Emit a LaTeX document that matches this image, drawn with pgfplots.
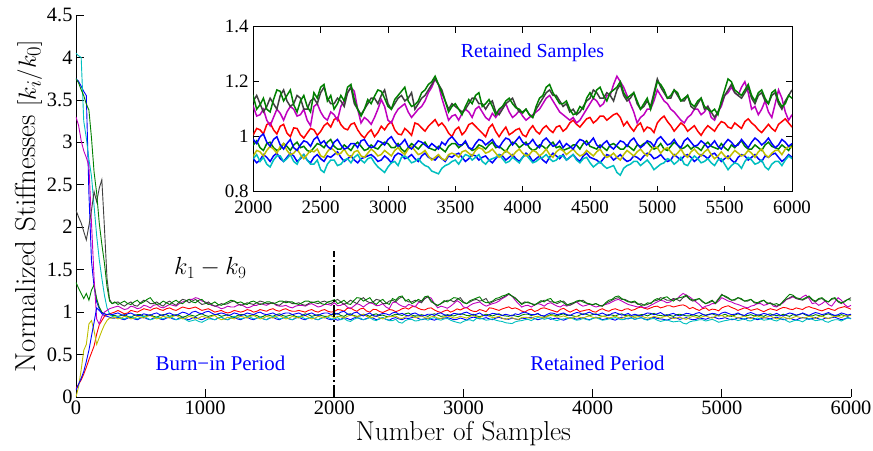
\documentclass[border=0pt]{standalone}
\usepackage{fontspec}
\usepackage{pgfplots}
\usepackage{pgfplotstable}
\pgfplotsset{compat=1.18}
\newfontfamily\tnr{Liberation Serif}
\definecolor{mgreen}{rgb}{0,0.5,0}
\definecolor{mcyan}{rgb}{0,0.75,0.75}
\definecolor{mmag}{rgb}{0.75,0,0.75}
\definecolor{myel}{rgb}{0.75,0.75,0}
\definecolor{mgray}{rgb}{0.25,0.25,0.25}

% chain of samples, k1..k9 (normalized stiffness)
\pgfplotstableread{
x k1 k2 k3 k4 k5 k6 k7 k8 k9
0 3.75 1.35 0.10 4.05 3.30 0.00 2.20 0.08 3.75
20 3.72 1.28 0.15 4.02 3.20 0.12 2.12 0.15 3.70
40 3.66 1.22 0.20 4.00 3.02 0.32 2.05 0.22 3.62
60 3.60 1.16 0.27 3.25 2.90 0.55 1.95 0.30 3.55
80 3.55 1.22 0.35 3.05 2.82 0.62 1.85 0.42 3.45
100 2.40 1.14 0.44 2.80 2.72 0.86 2.02 0.55 3.38
120 1.60 1.26 0.52 2.60 2.05 0.90 2.20 0.72 3.05
140 1.30 1.32 0.60 2.25 1.40 0.78 2.42 0.88 2.65
160 1.12 1.16 0.74 1.90 0.92 0.62 2.30 1.05 2.40
180 1.04 1.06 0.85 1.62 0.86 0.70 2.46 1.02 2.05
200 0.98 1.00 0.90 1.40 0.95 0.78 2.56 0.99 1.80
220 0.96 0.98 0.95 1.20 1.00 0.85 2.00 0.98 1.58
240 0.95 0.97 0.97 1.05 1.02 0.90 1.40 0.97 1.30
260 0.94 0.97 0.98 0.98 1.04 0.93 1.15 0.98 1.13
280 0.93 0.96 0.99 0.95 1.05 0.93 1.10 0.97 1.10
300 0.93 0.96 1.00 0.94 1.06 0.94 1.11 0.98 1.12
325 0.94 0.95 1.02 0.95 1.07 0.92 1.12 0.99 1.09
350 0.92 0.96 1.00 0.93 1.05 0.93 1.09 0.97 1.11
375 0.91 0.97 0.98 0.92 1.03 0.95 1.07 0.96 1.13
400 0.93 0.95 0.99 0.94 1.04 0.94 1.10 0.98 1.10
425 0.94 0.94 1.02 0.95 1.07 0.92 1.12 0.99 1.09
450 0.92 0.96 1.01 0.93 1.06 0.93 1.08 0.97 1.12
475 0.91 0.97 1.00 0.92 1.04 0.95 1.07 0.96 1.14
500 0.93 0.97 1.02 0.94 1.05 0.94 1.11 0.96 1.10
525 0.94 0.95 1.04 0.95 1.08 0.93 1.14 0.98 1.12
550 0.92 0.96 1.03 0.93 1.07 0.95 1.13 0.97 1.15
575 0.91 0.97 1.02 0.91 1.05 0.96 1.10 0.96 1.17
600 0.93 0.95 1.04 0.92 1.08 0.94 1.10 0.98 1.12
625 0.94 0.94 1.05 0.94 1.09 0.92 1.12 0.99 1.09
650 0.92 0.96 1.03 0.93 1.06 0.93 1.09 0.97 1.10
675 0.91 0.97 1.02 0.92 1.05 0.95 1.07 0.96 1.13
700 0.93 0.97 1.04 0.94 1.07 0.94 1.11 0.98 1.11
725 0.94 0.95 1.05 0.95 1.09 0.93 1.13 0.99 1.09
750 0.92 0.96 1.03 0.93 1.08 0.95 1.10 0.97 1.12
775 0.91 0.97 1.02 0.91 1.07 0.96 1.08 0.96 1.14
800 0.93 0.96 1.04 0.92 1.10 0.94 1.12 0.98 1.11
825 0.94 0.94 1.06 0.93 1.12 0.92 1.15 1.00 1.10
850 0.92 0.95 1.05 0.91 1.13 0.93 1.14 0.99 1.13
875 0.91 0.97 1.04 0.89 1.15 0.95 1.11 0.97 1.15
900 0.93 0.96 1.05 0.90 1.15 0.94 1.13 1.00 1.12
925 0.94 0.95 1.06 0.91 1.17 0.92 1.15 1.01 1.11
950 0.92 0.97 1.04 0.89 1.16 0.93 1.12 0.99 1.14
975 0.91 0.98 1.02 0.88 1.13 0.95 1.09 0.98 1.15
1000 0.93 0.96 1.03 0.90 1.12 0.94 1.10 1.00 1.11
1025 0.94 0.95 1.04 0.92 1.10 0.93 1.12 1.01 1.09
1050 0.92 0.96 1.02 0.92 1.08 0.95 1.09 0.99 1.10
1075 0.91 0.97 1.00 0.91 1.07 0.96 1.07 0.97 1.12
1100 0.93 0.97 1.01 0.93 1.06 0.93 1.08 0.98 1.09
1125 0.94 0.95 1.02 0.94 1.04 0.91 1.10 0.99 1.08
1150 0.92 0.96 1.00 0.92 1.05 0.92 1.09 0.98 1.10
1175 0.91 0.97 0.99 0.91 1.07 0.94 1.10 0.96 1.12
1200 0.93 0.95 1.00 0.93 1.06 0.93 1.12 0.97 1.14
1225 0.94 0.94 1.02 0.95 1.06 0.92 1.13 0.99 1.13
1250 0.92 0.96 1.01 0.94 1.08 0.94 1.10 0.98 1.11
1275 0.91 0.97 1.00 0.92 1.09 0.95 1.08 0.96 1.12
1300 0.93 0.97 1.01 0.93 1.07 0.94 1.09 0.97 1.10
1325 0.94 0.95 1.03 0.95 1.05 0.93 1.11 0.99 1.09
1350 0.92 0.96 1.02 0.94 1.06 0.95 1.10 0.98 1.12
1375 0.91 0.97 1.00 0.92 1.08 0.96 1.09 0.97 1.13
1400 0.93 0.96 1.01 0.93 1.08 0.94 1.11 0.99 1.11
1425 0.94 0.94 1.03 0.94 1.10 0.92 1.13 1.00 1.09
1450 0.92 0.95 1.02 0.92 1.09 0.93 1.12 0.98 1.10
1475 0.91 0.97 1.01 0.91 1.08 0.95 1.10 0.97 1.12
1500 0.93 0.96 1.03 0.93 1.10 0.94 1.10 0.98 1.12
1525 0.94 0.95 1.04 0.95 1.11 0.93 1.11 0.99 1.10
1550 0.92 0.97 1.02 0.94 1.08 0.95 1.09 0.97 1.11
1575 0.91 0.98 1.01 0.92 1.07 0.96 1.08 0.96 1.13
1600 0.93 0.96 1.03 0.93 1.07 0.94 1.11 0.98 1.13
1625 0.94 0.95 1.04 0.94 1.08 0.92 1.13 0.99 1.11
1650 0.92 0.96 1.02 0.92 1.06 0.93 1.12 0.99 1.12
1675 0.91 0.97 1.01 0.91 1.05 0.95 1.10 0.97 1.12
1700 0.93 0.95 1.01 0.93 1.07 0.94 1.10 0.98 1.10
1725 0.94 0.94 1.02 0.95 1.08 0.93 1.11 0.99 1.09
1750 0.92 0.96 1.01 0.94 1.08 0.95 1.09 0.97 1.11
1775 0.91 0.98 1.00 0.92 1.07 0.96 1.08 0.96 1.13
1800 0.93 0.97 1.02 0.93 1.09 0.94 1.10 0.98 1.13
1825 0.94 0.95 1.03 0.94 1.10 0.92 1.12 0.99 1.11
1850 0.92 0.96 1.01 0.92 1.08 0.93 1.11 0.97 1.12
1875 0.91 0.97 1.00 0.91 1.06 0.95 1.10 0.96 1.13
1900 0.93 0.96 1.02 0.93 1.07 0.94 1.12 0.98 1.10
1925 0.94 0.95 1.03 0.94 1.09 0.93 1.13 0.99 1.09
1950 0.92 0.95 1.01 0.94 1.09 0.95 1.11 0.99 1.12
1975 0.91 0.97 1.00 0.92 1.08 0.96 1.10 0.97 1.13
2000 0.92 0.97 1.007 0.92 1.11 0.93 1.13 0.99 1.147
2025 0.905 0.985 1.03 0.935 1.075 0.95 1.15 0.975 1.10
2050 0.915 0.96 1.025 0.91 1.08 0.945 1.12 1.00 1.116
2075 0.935 0.95 1.01 0.925 1.10 0.93 1.09 1.01 1.14
2100 0.925 0.975 1.044 0.90 1.06 0.95 1.11 0.98 1.10
2125 0.91 0.98 1.05 0.89 1.04 0.965 1.14 0.965 1.09
2150 0.93 0.96 1.025 0.915 1.07 0.955 1.12 0.99 1.135
2175 0.94 0.95 1.01 0.93 1.10 0.94 1.10 1.00 1.17
2200 0.92 0.955 1.038 0.93 1.085 0.965 1.15 0.97 1.165
2225 0.91 0.975 1.045 0.91 1.06 0.975 1.17 0.955 1.13
2250 0.925 0.965 1.013 0.92 1.09 0.95 1.13 0.975 1.15
2275 0.94 0.95 1.00 0.935 1.11 0.935 1.11 0.99 1.17
2300 0.93 0.97 1.032 0.91 1.10 0.94 1.12 0.96 1.116
2325 0.91 0.98 1.03 0.90 1.075 0.955 1.15 0.95 1.09
2350 0.92 0.96 1.007 0.925 1.08 0.935 1.14 0.97 1.13
2375 0.935 0.965 0.995 0.935 1.10 0.92 1.10 0.985 1.15
2400 0.915 0.95 1.013 0.915 1.06 0.935 1.10 0.98 1.11
2425 0.905 0.945 1.03 0.90 1.04 0.95 1.13 0.965 1.09
2450 0.925 0.96 1.025 0.90 1.11 0.945 1.14 0.99 1.16
2475 0.935 0.975 1.005 0.915 1.12 0.955 1.12 1.00 1.14
2500 0.92 0.97 1.019 0.88 1.09 0.93 1.16 0.975 1.18
2525 0.91 0.96 1.04 0.87 1.07 0.925 1.18 0.985 1.19
2550 0.93 0.98 1.05 0.90 1.06 0.945 1.14 0.965 1.13
2575 0.925 0.99 1.035 0.915 1.09 0.96 1.12 0.955 1.15
2600 0.935 0.965 1.062 0.915 1.08 0.95 1.12 0.98 1.10
2625 0.945 0.955 1.07 0.895 1.06 0.935 1.14 0.99 1.12
2650 0.925 0.955 1.044 0.90 1.11 0.94 1.13 0.97 1.15
2675 0.91 0.97 1.03 0.915 1.13 0.955 1.11 0.955 1.13
2700 0.92 0.96 1.025 0.92 1.16 0.935 1.16 0.96 1.18
2725 0.93 0.95 1.045 0.905 1.18 0.925 1.18 0.975 1.19
2750 0.915 0.97 1.05 0.925 1.165 0.945 1.12 0.975 1.135
2775 0.905 0.98 1.025 0.935 1.10 0.95 1.10 0.96 1.10
2800 0.92 0.965 1.007 0.915 1.05 0.93 1.08 0.985 1.075
2825 0.925 0.95 0.995 0.905 1.07 0.925 1.10 0.99 1.10
2850 0.93 0.955 1.013 0.92 1.06 0.94 1.12 0.97 1.135
2875 0.935 0.97 1.025 0.925 1.045 0.955 1.14 0.96 1.12
2900 0.925 0.96 1.00 0.905 1.07 0.945 1.14 0.965 1.147
2925 0.91 0.955 1.015 0.89 1.10 0.93 1.12 0.985 1.17
2950 0.915 0.97 1.038 0.88 1.135 0.935 1.15 0.98 1.165
2975 0.93 0.98 1.025 0.87 1.11 0.95 1.17 0.97 1.14
3000 0.92 0.975 1.044 0.89 1.06 0.94 1.12 0.99 1.11
3025 0.905 0.96 1.055 0.905 1.05 0.93 1.10 1.00 1.10
3050 0.93 0.96 1.025 0.91 1.08 0.95 1.12 0.98 1.135
3075 0.94 0.975 1.01 0.895 1.10 0.96 1.14 0.965 1.15
3100 0.935 0.955 1.007 0.925 1.11 0.945 1.15 0.975 1.165
3125 0.92 0.945 1.03 0.93 1.12 0.935 1.13 0.99 1.18
3150 0.925 0.96 1.019 0.92 1.09 0.955 1.14 0.965 1.13
3175 0.935 0.975 1.005 0.905 1.07 0.965 1.16 0.955 1.11
3200 0.92 0.965 1.05 0.91 1.085 0.95 1.10 0.97 1.116
3225 0.91 0.955 1.045 0.92 1.10 0.935 1.12 0.985 1.13
3250 0.93 0.97 1.032 0.905 1.11 0.94 1.14 0.98 1.16
3275 0.94 0.98 1.02 0.895 1.13 0.95 1.15 0.97 1.17
3300 0.925 0.96 1.038 0.89 1.16 0.93 1.17 0.96 1.19
3325 0.92 0.955 1.05 0.875 1.18 0.915 1.19 0.975 1.20
3350 0.915 0.95 1.062 0.87 1.21 0.925 1.21 0.965 1.22
3375 0.93 0.965 1.04 0.865 1.19 0.935 1.19 0.955 1.19
3400 0.92 0.955 1.05 0.885 1.14 0.92 1.17 0.98 1.16
3425 0.91 0.945 1.035 0.895 1.10 0.915 1.13 0.97 1.13
3450 0.93 0.965 1.013 0.90 1.06 0.935 1.10 0.99 1.09
3475 0.925 0.975 1.00 0.91 1.075 0.94 1.12 1.00 1.11
3500 0.935 0.975 1.025 0.915 1.08 0.935 1.11 0.985 1.12
3525 0.94 0.96 1.035 0.90 1.06 0.925 1.10 0.97 1.10
3550 0.925 0.97 1.007 0.92 1.085 0.945 1.09 0.97 1.08
3575 0.91 0.98 1.02 0.935 1.10 0.95 1.10 0.985 1.11
3600 0.92 0.96 1.044 0.93 1.09 0.94 1.12 0.96 1.135
3625 0.935 0.95 1.05 0.915 1.07 0.93 1.14 0.955 1.12
3650 0.93 0.955 1.038 0.925 1.10 0.95 1.14 0.975 1.15
3675 0.915 0.97 1.025 0.935 1.11 0.96 1.12 0.99 1.16
3700 0.925 0.965 1.013 0.91 1.09 0.955 1.12 0.985 1.11
3725 0.93 0.955 1.00 0.90 1.07 0.94 1.10 0.97 1.12
3750 0.915 0.97 1.032 0.915 1.06 0.945 1.12 0.98 1.135
3775 0.905 0.98 1.045 0.92 1.085 0.955 1.13 0.99 1.11
3800 0.92 0.96 1.019 0.925 1.07 0.94 1.09 0.97 1.08
3825 0.935 0.965 1.00 0.935 1.09 0.925 1.08 0.96 1.10
3850 0.93 0.955 1.019 0.92 1.11 0.935 1.10 0.98 1.11
3875 0.915 0.945 1.035 0.905 1.12 0.95 1.12 0.995 1.13
3900 0.925 0.965 1.007 0.91 1.09 0.94 1.13 0.99 1.14
3925 0.935 0.98 1.015 0.925 1.07 0.93 1.14 0.97 1.12
3950 0.92 0.975 1.025 0.915 1.08 0.945 1.11 0.985 1.105
3975 0.91 0.96 1.03 0.905 1.095 0.955 1.09 1.00 1.10
4000 0.925 0.97 1.007 0.925 1.075 0.94 1.09 0.98 1.086
4025 0.94 0.98 1.00 0.935 1.06 0.93 1.10 0.97 1.10
4050 0.93 0.96 1.025 0.92 1.07 0.935 1.08 0.975 1.08
4075 0.91 0.95 1.04 0.905 1.08 0.95 1.07 0.99 1.07
4100 0.92 0.955 1.02 0.91 1.09 0.945 1.10 0.97 1.11
4125 0.93 0.97 1.01 0.92 1.10 0.93 1.12 0.96 1.14
4150 0.915 0.965 1.03 0.925 1.12 0.94 1.14 0.985 1.15
4175 0.905 0.955 1.04 0.935 1.14 0.955 1.16 0.995 1.18
4200 0.925 0.97 1.025 0.92 1.15 0.935 1.17 0.98 1.19
4225 0.94 0.98 1.015 0.91 1.13 0.925 1.15 0.965 1.16
4250 0.93 0.96 1.035 0.915 1.11 0.945 1.15 0.97 1.14
4275 0.92 0.965 1.04 0.93 1.09 0.955 1.13 0.985 1.12
4300 0.935 0.95 1.02 0.93 1.08 0.95 1.11 0.96 1.12
4325 0.915 0.955 1.03 0.915 1.07 0.935 1.12 0.975 1.13
4350 0.925 0.96 1.05 0.925 1.06 0.945 1.09 0.965 1.10
4375 0.935 0.97 1.06 0.935 1.07 0.955 1.10 0.955 1.08
4400 0.92 0.97 1.045 0.915 1.05 0.94 1.08 0.975 1.085
4425 0.91 0.955 1.035 0.905 1.06 0.93 1.09 0.99 1.11
4450 0.93 0.975 1.05 0.92 1.08 0.935 1.11 0.985 1.10
4475 0.94 0.985 1.065 0.925 1.10 0.95 1.13 0.97 1.14
4500 0.925 0.965 1.07 0.905 1.12 0.94 1.14 0.98 1.16
4525 0.92 0.96 1.05 0.89 1.14 0.93 1.17 0.995 1.14
4550 0.915 0.955 1.06 0.90 1.13 0.945 1.16 0.97 1.17
4575 0.905 0.97 1.075 0.91 1.11 0.955 1.14 0.96 1.18
4600 0.92 0.96 1.075 0.895 1.12 0.935 1.14 0.975 1.15
4625 0.935 0.95 1.06 0.885 1.15 0.925 1.16 0.985 1.13
4650 0.93 0.97 1.07 0.89 1.15 0.93 1.15 0.965 1.16
4675 0.915 0.975 1.08 0.895 1.19 0.94 1.13 0.955 1.17
4700 0.925 0.965 1.085 0.87 1.22 0.925 1.17 0.97 1.18
4725 0.935 0.955 1.07 0.86 1.20 0.915 1.19 0.985 1.20
4750 0.92 0.955 1.04 0.885 1.18 0.935 1.15 0.98 1.16
4775 0.91 0.97 1.055 0.895 1.15 0.95 1.13 0.965 1.14
4800 0.915 0.96 1.035 0.90 1.12 0.94 1.14 0.985 1.15
4825 0.93 0.95 1.02 0.91 1.09 0.93 1.16 0.995 1.16
4850 0.925 0.97 1.04 0.91 1.05 0.945 1.12 0.975 1.13
4875 0.915 0.965 1.05 0.895 1.07 0.955 1.10 0.96 1.10
4900 0.93 0.975 1.02 0.905 1.08 0.94 1.11 0.97 1.12
4925 0.94 0.98 1.035 0.915 1.10 0.93 1.13 0.985 1.14
4950 0.935 0.965 1.03 0.90 1.10 0.95 1.11 0.98 1.10
4975 0.92 0.955 1.015 0.88 1.13 0.965 1.16 0.965 1.15
5000 0.925 0.96 1.05 0.89 1.17 0.96 1.21 0.99 1.20
5025 0.935 0.975 1.065 0.90 1.15 0.94 1.18 1.00 1.19
5050 0.92 0.955 1.075 0.905 1.13 0.955 1.16 0.985 1.17
5075 0.91 0.95 1.055 0.92 1.12 0.96 1.14 0.97 1.14
5100 0.915 0.965 1.04 0.915 1.10 0.945 1.14 0.975 1.15
5125 0.935 0.98 1.02 0.90 1.09 0.93 1.17 0.99 1.17
5150 0.925 0.97 1.035 0.91 1.075 0.94 1.15 0.97 1.16
5175 0.915 0.955 1.05 0.925 1.06 0.955 1.13 0.96 1.13
5200 0.93 0.96 1.04 0.90 1.05 0.935 1.13 0.985 1.14
5225 0.935 0.97 1.02 0.895 1.07 0.925 1.15 0.995 1.15
5250 0.925 0.955 1.03 0.915 1.08 0.945 1.11 0.98 1.12
5275 0.91 0.965 1.04 0.93 1.10 0.955 1.10 0.965 1.11
5300 0.92 0.96 1.02 0.92 1.10 0.94 1.12 0.97 1.13
5325 0.935 0.95 1.005 0.905 1.08 0.93 1.14 0.985 1.14
5350 0.93 0.97 1.025 0.91 1.09 0.945 1.10 0.975 1.11
5375 0.92 0.98 1.04 0.92 1.11 0.955 1.11 0.96 1.10
5400 0.935 0.965 1.03 0.905 1.07 0.935 1.09 0.97 1.09
5425 0.94 0.96 1.02 0.895 1.06 0.92 1.07 0.985 1.10
5450 0.925 0.955 1.04 0.915 1.09 0.93 1.09 0.965 1.08
5475 0.91 0.975 1.055 0.92 1.11 0.945 1.12 0.955 1.13
5500 0.92 0.96 1.05 0.90 1.15 0.93 1.15 0.975 1.17
5525 0.93 0.95 1.035 0.88 1.16 0.92 1.17 0.99 1.21
5550 0.915 0.97 1.03 0.895 1.18 0.935 1.19 0.98 1.20
5575 0.905 0.96 1.05 0.905 1.16 0.95 1.16 0.965 1.17
5600 0.925 0.975 1.04 0.90 1.15 0.94 1.15 0.97 1.16
5625 0.935 0.985 1.03 0.885 1.18 0.93 1.14 0.99 1.15
5650 0.93 0.965 1.055 0.91 1.20 0.935 1.16 0.975 1.17
5675 0.915 0.955 1.065 0.925 1.16 0.95 1.18 0.96 1.19
5700 0.925 0.955 1.05 0.915 1.10 0.94 1.14 0.98 1.15
5725 0.935 0.97 1.04 0.90 1.11 0.925 1.12 0.995 1.13
5750 0.92 0.96 1.025 0.905 1.08 0.945 1.15 0.985 1.16
5775 0.91 0.95 1.015 0.915 1.10 0.955 1.16 0.97 1.17
5800 0.93 0.97 1.03 0.89 1.13 0.935 1.13 0.98 1.14
5825 0.925 0.98 1.045 0.88 1.09 0.925 1.12 0.995 1.12
5850 0.935 0.965 1.03 0.90 1.07 0.94 1.15 0.975 1.16
5875 0.94 0.96 1.02 0.91 1.12 0.95 1.16 0.96 1.17
5900 0.925 0.955 1.045 0.91 1.17 0.95 1.12 0.97 1.13
5925 0.91 0.97 1.055 0.895 1.14 0.935 1.10 0.99 1.11
5950 0.92 0.96 1.065 0.915 1.09 0.955 1.13 0.98 1.12
5975 0.935 0.95 1.05 0.93 1.06 0.965 1.15 0.965 1.15
6000 0.925 0.97 1.035 0.92 1.08 0.96 1.17 0.975 1.14
}\chain

\begin{document}
\begin{tikzpicture}
\path[use as bounding box] (-76bp,-54bp) rectangle (797bp,397bp);
\begin{axis}[
  scale only axis, width=775bp, height=382bp,
  xmin=0, xmax=6000, ymin=0, ymax=4.5,
  axis x line*=bottom, axis y line*=left,
  axis line style={line width=0.8bp},
  xtick={0,1000,...,6000}, ytick={0,0.5,...,4.5},
  tick align=inside, major tick length=8bp,
  tick style={line width=0.7bp, black},
  scaled x ticks=false,
  /pgf/number format/1000 sep={},
  /pgf/number format/assume math mode=true,
  tick label style={font=\tnr\fontsize{20.5}{22}\selectfont},
  xlabel={Number of Samples},
  ylabel={Normalized Stiffnesses $[k_i/k_0]$},
  xlabel style={font=\fontsize{27.5}{30}\selectfont},
  ylabel style={font=\fontsize{29}{31}\selectfont, yshift=-2bp},
  every axis plot/.append style={line width=0.9bp},
]
\addplot[blue] table[x=x,y=k1] {\chain};
\addplot[mgreen] table[x=x,y=k2] {\chain};
\addplot[red] table[x=x,y=k3] {\chain};
\addplot[mcyan] table[x=x,y=k4] {\chain};
\addplot[mmag] table[x=x,y=k5] {\chain};
\addplot[myel] table[x=x,y=k6] {\chain};
\addplot[mgray] table[x=x,y=k7] {\chain};
\addplot[blue] table[x=x,y=k8] {\chain};
\addplot[mgreen] table[x=x,y=k9] {\chain};
\addplot[black, line width=2bp, dash pattern=on 12bp off 3bp on 2bp off 3bp] coordinates {(2000,0) (2000,1.72)};
\node[font=\fontsize{24}{27}\selectfont] at (axis cs:1040,1.52) {$k_1 - k_9$};
\node[font=\tnr\fontsize{21}{24}\selectfont, text=blue] at (axis cs:1119,0.40) {Burn−in Period};
\node[font=\tnr\fontsize{21}{24}\selectfont, text=blue] at (axis cs:4037,0.40) {Retained Period};
\end{axis}
\begin{axis}[
  at={(177.3bp,205.3bp)}, anchor=south west,
  scale only axis, width=538.7bp, height=165bp,
  xmin=2000, xmax=6000, ymin=0.8, ymax=1.4,
  xtick={2000,2500,...,6000}, ytick={0.8,1.0,1.2,1.4},
  axis line style={line width=0.8bp},
  tick align=inside, major tick length=6bp,
  tick style={line width=0.7bp, black},
  scaled x ticks=false,
  /pgf/number format/1000 sep={},
  /pgf/number format/assume math mode=true,
  tick label style={font=\tnr\fontsize{19}{21}\selectfont,
    inner sep=0.5bp, text height=12.5bp, text depth=0bp},
  xticklabel style={yshift=-9bp},
  yticklabel style={xshift=-4bp},
  axis background/.style={fill=white},
  every axis plot/.append style={line width=1.5bp},
]
\addplot[blue] table[x=x,y=k1] {\chain};
\addplot[mgreen] table[x=x,y=k2] {\chain};
\addplot[red] table[x=x,y=k3] {\chain};
\addplot[mcyan] table[x=x,y=k4] {\chain};
\addplot[mmag] table[x=x,y=k5] {\chain};
\addplot[myel] table[x=x,y=k6] {\chain};
\addplot[mgray] table[x=x,y=k7] {\chain};
\addplot[blue] table[x=x,y=k8] {\chain};
\addplot[mgreen] table[x=x,y=k9] {\chain};
\node[font=\tnr\fontsize{20}{22}\selectfont, text=blue] at (axis cs:4073,1.307) {Retained Samples};
\end{axis}
\end{tikzpicture}
\end{document}
